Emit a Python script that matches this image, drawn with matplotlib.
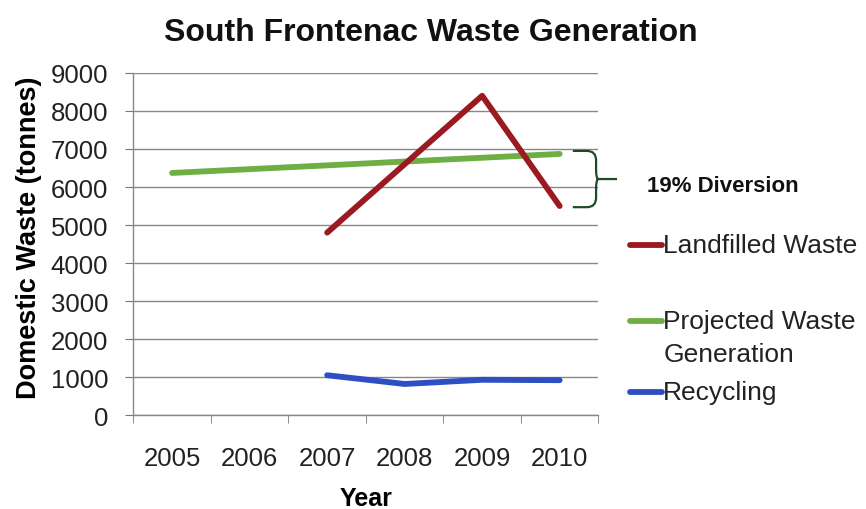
import matplotlib
matplotlib.use("Agg")
import matplotlib.pyplot as plt
import matplotlib.transforms as mtransforms
from matplotlib.path import Path
from matplotlib.patches import PathPatch
from matplotlib.lines import Line2D

plt.rcParams['font.family'] = ['Liberation Sans', 'DejaVu Sans']

years = ['2005', '2006', '2007', '2008', '2009', '2010']
landfill_years = [2, 3, 4, 5]
landfill = [4800, 6600, 8400, 5500]
projected = [6370, 6470, 6570, 6670, 6770, 6870]
recycle_years = [2, 3, 4, 5]
recycling = [1050, 820, 930, 920]

c_red = '#9b1a22'
c_green = '#6fae45'
c_blue = '#2d4fc2'
c_brace = '#1f4a25'

fig = plt.figure(figsize=(8.66, 5.10), dpi=100)
ax = fig.add_axes([0.154, 0.184, 0.537, 0.671])

ax.plot(range(len(years)), projected, color=c_green, lw=4.2, solid_capstyle='round', zorder=3)
ax.plot(landfill_years, landfill, color=c_red, lw=4.2, solid_capstyle='round', zorder=4)
ax.plot(recycle_years, recycling, color=c_blue, lw=4.2, solid_capstyle='round', zorder=4)

ax.set_xlim(-0.5, 5.5)
ax.set_ylim(0, 9000)
ax.set_yticks(range(0, 9001, 1000))
ax.set_yticklabels([str(v) for v in range(0, 9001, 1000)], fontsize=18.5, color='#222222')
ax.set_xticks(range(len(years)))
ax.set_xticklabels(years, fontsize=18.5, color='#222222')
ax.set_xticks([i - 0.5 for i in range(len(years) + 1)], minor=True)
ax.tick_params(axis='x', which='major', length=0, pad=22)
ax.tick_params(axis='x', which='minor', length=6, color='#777777', direction='out')
ax.tick_params(axis='y', length=6, color='#777777', direction='out', pad=12)
ax.grid(axis='y', color='#888888', lw=1.0)
ax.set_axisbelow(True)
for s in ['top', 'right']:
    ax.spines[s].set_visible(False)
ax.spines['left'].set_color('#888888')
ax.spines['bottom'].set_color('#888888')
ax.spines['left'].set_linewidth(1.0)
ax.spines['bottom'].set_linewidth(1.0)

ax.set_ylabel('Domestic Waste (tonnes)', fontsize=19.5, fontweight='bold')
ax.yaxis.set_label_coords(-0.197, 0.52)
ax.set_xlabel('Year', fontsize=18, fontweight='bold', labelpad=12)
fig.text(0.497, 0.935, 'South Frontenac Waste Generation', fontsize=23,
         fontweight='bold', ha='center', va='center', color='#111111')

# brace between projected and landfilled in 2010
trans = mtransforms.blended_transform_factory(ax.transAxes, ax.transData)
top = projected[-1] + 80
bot = landfill[-1] - 30
mid = (top + bot) / 2
x0, x1, xm = 0.945, 0.995, 1.04
r = 250
verts = [(x0, top), (x1 - 0.02, top), (x1, top), (x1, top - r),
         (x1, mid + r), (x1, mid), (x1 + 0.005, mid), (xm, mid),
         (x1 + 0.005, mid), (x1, mid), (x1, mid - r),
         (x1, bot + r), (x1, bot), (x1 - 0.02, bot), (x0, bot)]
codes = [Path.MOVETO, Path.LINETO, Path.CURVE3, Path.CURVE3,
         Path.LINETO, Path.CURVE3, Path.CURVE3, Path.LINETO,
         Path.MOVETO, Path.CURVE3, Path.CURVE3,
         Path.LINETO, Path.CURVE3, Path.CURVE3, Path.LINETO]
ax.add_patch(PathPatch(Path(verts, codes), fill=False, edgecolor=c_brace, lw=1.6,
                       transform=trans, clip_on=False))
fig.text(0.747, 0.635, '19% Diversion', fontsize=16, fontweight='bold',
         ha='left', va='center', color='#111111')

# legend
def leg(y, color):
    fig.add_artist(Line2D([0.728, 0.765], [y, y], color=color, lw=4.2,
                          solid_capstyle='round', transform=fig.transFigure))

fs = 19
leg(0.517, c_red)
fig.text(0.766, 0.517, 'Landfilled Waste', fontsize=fs, ha='left', va='center', color='#222222')
leg(0.368, c_green)
fig.text(0.766, 0.368, 'Projected Waste', fontsize=fs, ha='left', va='center', color='#222222')
fig.text(0.766, 0.303, 'Generation', fontsize=fs, ha='left', va='center', color='#222222')
leg(0.229, c_blue)
fig.text(0.766, 0.229, 'Recycling', fontsize=fs, ha='left', va='center', color='#222222')

fig.savefig('out.png', dpi=100)
